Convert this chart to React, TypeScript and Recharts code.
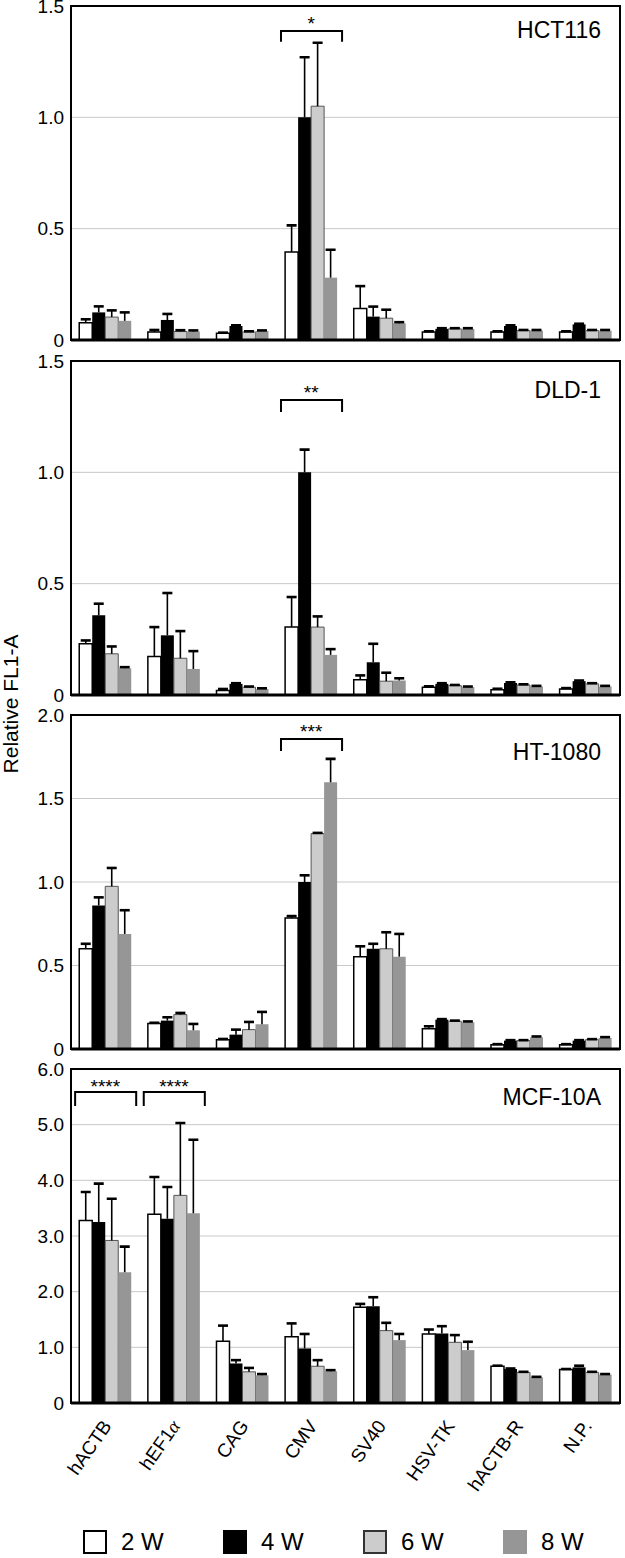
import React from 'react';
import {
  BarChart,
  Bar,
  XAxis,
  YAxis,
  CartesianGrid,
  ReferenceArea,
  ReferenceLine,
  Legend,
} from 'recharts';

const FONT = '"Liberation Sans", Arial, Helvetica, sans-serif';

const promoters = ['hACTB', 'hEF1α', 'CAG', 'CMV', 'SV40', 'HSV-TK', 'hACTB-R', 'N.P.'];
const weeks = ['2 W', '4 W', '6 W', '8 W'];

// ---- HCT116 ----
const hct116Mean = [
  [0.078, 0.036, 0.03, 0.395, 0.142, 0.036, 0.036, 0.036],
  [0.124, 0.09, 0.063, 1.0, 0.105, 0.05, 0.063, 0.07],
  [0.103, 0.038, 0.036, 1.05, 0.098, 0.05, 0.042, 0.042],
  [0.086, 0.038, 0.04, 0.28, 0.075, 0.05, 0.042, 0.042],
];
const hct116Err = [
  [0.015, 0.009, 0.003, 0.12, 0.1, 0.003, 0.003, 0.003],
  [0.027, 0.027, 0.003, 0.27, 0.045, 0.003, 0.003, 0.003],
  [0.03, 0.006, 0.003, 0.285, 0.038, 0.003, 0.003, 0.003],
  [0.038, 0.005, 0.003, 0.125, 0.005, 0.003, 0.003, 0.003],
];

// ---- DLD-1 ----
const dld1Mean = [
  [0.23, 0.173, 0.02, 0.305, 0.068, 0.035, 0.024, 0.027],
  [0.358, 0.268, 0.05, 1.0, 0.147, 0.05, 0.054, 0.062],
  [0.185, 0.165, 0.035, 0.305, 0.062, 0.042, 0.045, 0.05],
  [0.12, 0.117, 0.027, 0.18, 0.065, 0.035, 0.038, 0.038],
];
const dld1Err = [
  [0.015, 0.132, 0.007, 0.135, 0.02, 0.004, 0.004, 0.004],
  [0.052, 0.19, 0.003, 0.102, 0.083, 0.003, 0.003, 0.003],
  [0.033, 0.122, 0.003, 0.048, 0.038, 0.003, 0.003, 0.003],
  [0.005, 0.08, 0.003, 0.026, 0.01, 0.003, 0.003, 0.003],
];

// ---- HT-1080 ----
const ht1080Mean = [
  [0.6, 0.152, 0.056, 0.784, 0.553, 0.122, 0.026, 0.026],
  [0.86, 0.17, 0.086, 1.0, 0.6, 0.176, 0.05, 0.05],
  [0.974, 0.206, 0.116, 1.29, 0.6, 0.166, 0.05, 0.056],
  [0.689, 0.112, 0.148, 1.597, 0.553, 0.16, 0.07, 0.066],
];
const ht1080Err = [
  [0.03, 0.005, 0.004, 0.012, 0.062, 0.014, 0.003, 0.003],
  [0.048, 0.02, 0.03, 0.04, 0.03, 0.003, 0.003, 0.003],
  [0.11, 0.01, 0.046, 0.004, 0.099, 0.004, 0.003, 0.003],
  [0.142, 0.038, 0.074, 0.14, 0.136, 0.005, 0.005, 0.005],
];

// ---- MCF-10A ----
const mcf10aMean = [
  [3.28, 3.39, 1.11, 1.19, 1.72, 1.24, 0.66, 0.6],
  [3.25, 3.31, 0.71, 0.98, 1.74, 1.25, 0.61, 0.64],
  [2.92, 3.73, 0.56, 0.66, 1.3, 1.09, 0.55, 0.55],
  [2.35, 3.41, 0.5, 0.57, 1.13, 0.95, 0.46, 0.51],
];
const mcf10aErr = [
  [0.51, 0.67, 0.28, 0.24, 0.06, 0.08, 0.01, 0.01],
  [0.69, 0.57, 0.06, 0.26, 0.16, 0.13, 0.01, 0.03],
  [0.75, 1.3, 0.07, 0.11, 0.14, 0.13, 0.01, 0.01],
  [0.46, 1.32, 0.02, 0.02, 0.11, 0.15, 0.01, 0.01],
];

const ticks15 = [0, 0.5, 1.0, 1.5];
const ticks20 = [0, 0.5, 1.0, 1.5, 2.0];
const ticks60 = [0, 1, 2, 3, 4, 5, 6];

const sig1 = [{ start: 'CMV', end: 'CMV', label: '*' }];
const sig2 = [{ start: 'CMV', end: 'CMV', label: '**' }];
const sig3 = [{ start: 'CMV', end: 'CMV', label: '***' }];
const sig4 = [
  { start: 'hACTB', end: 'hACTB', label: '****' },
  { start: 'hEF1α', end: 'hEF1α', label: '****' },
];

const FILLS = ['#ffffff', '#000000', '#cccccc', '#969696'];
const STROKES = ['#000000', 'none', '#555555', 'none'];
const STROKE_W = [1.5, 0, 1, 0];

const PLOT_H = 334;
const TOP_PAD = 12;

const fmt = (v: number) => (v === 0 ? '0' : v.toFixed(1));

const ErrShape = (props: any) => {
  const { x, y, width, height } = props;
  if (x == null || y == null) return null;
  const cx = x + width / 2;
  return (
    <g>
      <line x1={cx} x2={cx} y1={y + height} y2={y} stroke="#000" strokeWidth={1.6} />
      <line x1={cx - 5} x2={cx + 5} y1={y} y2={y} stroke="#000" strokeWidth={2.6} />
    </g>
  );
};

// bracket drawn inside the band(s) given by a ReferenceArea
const BracketShape = (props: any) => {
  const { x, y, width, height } = props;
  if (x == null || y == null) return null;
  const l = x + width * 0.06;
  const r = x + width * 0.95;
  return (
    <path
      d={`M${l},${y + height} L${l},${y} L${r},${y} L${r},${y + height}`}
      fill="none"
      stroke="#000"
      strokeWidth={2}
      strokeLinejoin="miter"
    />
  );
};

const FrameShape = (props: any) => {
  const { x, y, width, height } = props;
  if (x == null || y == null) return null;
  return <rect x={x} y={y} width={width} height={height} fill="none" stroke="#000" strokeWidth={2} />;
};

const XTick = (props: any) => {
  const { x, y, payload } = props;
  const v: string = payload.value;
  const content =
    v === 'hEF1α' ? (
      <>
        hEF1
        <tspan fontStyle="italic" fontFamily='"Liberation Serif", "DejaVu Serif", serif'>
          α
        </tspan>
      </>
    ) : (
      v
    );
  return (
    <g transform={`translate(${x + 7},${y + 23})`}>
      <text transform="rotate(-55)" textAnchor="end" fontSize={19} fontFamily={FONT} fill="#000">
        {content}
      </text>
    </g>
  );
};

const LegendContent = (props: any) => {
  const items = (props.payload || [])
    .filter((p: any) => weeks.includes(p.value))
    .sort((a: any, b: any) => weeks.indexOf(a.value) - weeks.indexOf(b.value));
  return (
    <div style={{ display: 'flex', fontFamily: FONT }}>
      {items.map((it: any) => {
        const k = weeks.indexOf(it.value);
        const border =
          k === 0 ? '2px solid #000' : k === 2 ? '2px solid #333' : 'none';
        return (
          <div key={it.value} style={{ width: 147, display: 'flex', alignItems: 'center' }}>
            <span
              style={{
                display: 'inline-block',
                width: 24,
                height: 24,
                boxSizing: 'border-box',
                background: FILLS[k],
                border,
              }}
            />
            <span style={{ marginLeft: 14, fontSize: 24, color: '#000', lineHeight: '24px' }}>
              {it.value}
            </span>
          </div>
        );
      })}
    </div>
  );
};

type PanelProps = {
  means: number[][];
  errs: number[][];
  yMax: number;
  ticks: number[];
  sig: { start: string; end: string; label: string }[];
  bracketTop: number;
  bracketLeg: number;
  starOffset: number;
  frameTop: number;
  showX: boolean;
};

function Panel({
  means,
  errs,
  yMax,
  ticks,
  sig,
  bracketTop,
  bracketLeg,
  starOffset,
  frameTop,
  showX,
}: PanelProps) {
  const data = promoters.map((p, i) => {
    const row: any = { name: p };
    means.forEach((m, k) => {
      row['v' + k] = m[i];
      row['e' + k] = errs[k][i];
    });
    return row;
  });
  const xAxisH = showX ? 154 : 0;
  const bottomPad = showX ? 0 : 12;
  const height = TOP_PAD + PLOT_H + xAxisH + bottomPad;
  return (
    <div style={{ position: 'absolute', left: 0, top: frameTop - TOP_PAD }}>
      <BarChart
        width={625}
        height={height}
        data={data}
        margin={{ top: TOP_PAD, right: 5, bottom: bottomPad, left: 0 }}
        barGap={0}
        barCategoryGap="12%"
      >
        <CartesianGrid vertical={false} stroke="#c8c8c8" strokeWidth={1} />
        <XAxis
          dataKey="name"
          hide={!showX}
          height={xAxisH}
          axisLine={false}
          tickLine={false}
          tickSize={0}
          tickMargin={0}
          interval={0}
          tick={<XTick />}
        />
        <YAxis
          domain={[0, yMax]}
          ticks={ticks}
          interval={0}
          width={71}
          axisLine={false}
          tickLine={false}
          tickSize={5}
          tickMargin={2}
          tickFormatter={fmt}
          allowDataOverflow
          tick={{ fontSize: 19, fill: '#000', fontFamily: FONT }}
        />
        {weeks.map((w, k) => [
          <Bar
            key={'v' + k}
            dataKey={'v' + k}
            name={w}
            stackId={'s' + k}
            fill={FILLS[k]}
            stroke={STROKES[k]}
            strokeWidth={STROKE_W[k]}
            isAnimationActive={false}
          />,
          <Bar
            key={'e' + k}
            dataKey={'e' + k}
            stackId={'s' + k}
            legendType="none"
            fill="none"
            shape={<ErrShape />}
            isAnimationActive={false}
          />,
        ])}
        <ReferenceArea
          x1={promoters[0]}
          x2={promoters[promoters.length - 1]}
          y1={0}
          y2={yMax}
          ifOverflow="visible"
          shape={<FrameShape />}
        />
        <ReferenceLine y={0} stroke="#000" strokeWidth={3} />
        {sig.map((b, j) => (
          <ReferenceArea
            key={'b' + j}
            x1={b.start}
            x2={b.end}
            y1={bracketLeg}
            y2={bracketTop}
            ifOverflow="visible"
            shape={<BracketShape />}
            label={{
              value: b.label,
              position: 'top',
              offset: starOffset,
              fontSize: 19,
              fill: '#000',
              fontFamily: FONT,
            }}
          />
        ))}
        {showX && (
          <Legend
            verticalAlign="middle"
            align="center"
            layout="horizontal"
            wrapperStyle={{ top: 473, left: 83, width: 560, height: 24 }}
            content={<LegendContent />}
          />
        )}
      </BarChart>
    </div>
  );
}

const titles = ['HCT116', 'DLD-1', 'HT-1080', 'MCF-10A'];
const frameTops = [6, 361, 715, 1069];
const titleDy = [32, 37, 45, 36];

export default function App() {
  return (
    <div
      style={{
        position: 'absolute',
        left: 0,
        top: 0,
        width: 625,
        height: 1558,
        background: '#fff',
        fontFamily: FONT,
      }}
    >
      <Panel
        means={hct116Mean}
        errs={hct116Err}
        yMax={1.5}
        ticks={ticks15}
        sig={sig1}
        bracketTop={1.388}
        bracketLeg={1.339}
        starOffset={1}
        frameTop={frameTops[0]}
        showX={false}
      />
      <Panel
        means={dld1Mean}
        errs={dld1Err}
        yMax={1.5}
        ticks={ticks15}
        sig={sig2}
        bracketTop={1.325}
        bracketLeg={1.271}
        starOffset={1}
        frameTop={frameTops[1]}
        showX={false}
      />
      <Panel
        means={ht1080Mean}
        errs={ht1080Err}
        yMax={2.0}
        ticks={ticks20}
        sig={sig3}
        bracketTop={1.856}
        bracketLeg={1.784}
        starOffset={1}
        frameTop={frameTops[2]}
        showX={false}
      />
      <Panel
        means={mcf10aMean}
        errs={mcf10aErr}
        yMax={6.0}
        ticks={ticks60}
        sig={sig4}
        bracketTop={5.587}
        bracketLeg={5.335}
        starOffset={-1}
        frameTop={frameTops[3]}
        showX={true}
      />
      <svg
        width={625}
        height={1558}
        style={{ position: 'absolute', left: 0, top: 0, pointerEvents: 'none' }}
      >
        <text
          transform="translate(18,704) rotate(-90)"
          textAnchor="middle"
          fontSize={21}
          fontFamily={FONT}
          fill="#000"
        >
          Relative FL1-A
        </text>
        {titles.map((t, i) => (
          <text
            key={t}
            x={601}
            y={frameTops[i] + titleDy[i]}
            textAnchor="end"
            fontSize={23}
            fontFamily={FONT}
            fill="#000"
          >
            {t}
          </text>
        ))}
      </svg>
    </div>
  );
}
